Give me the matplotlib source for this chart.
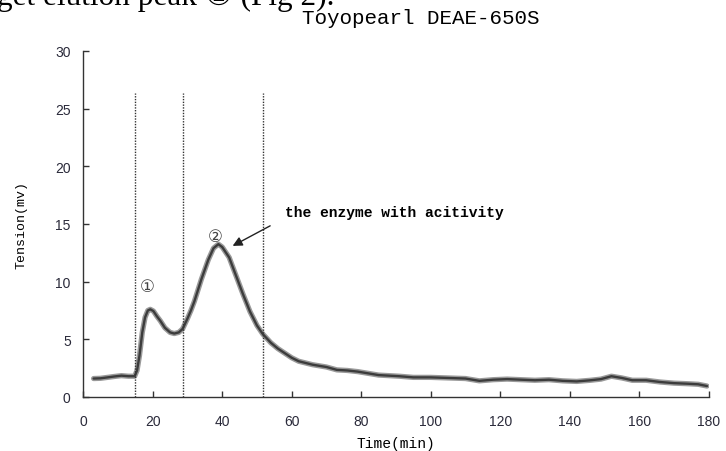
import matplotlib
matplotlib.use("Agg")
import matplotlib.pyplot as plt

# chromatogram
time_min = [3, 5, 7, 9, 11, 13, 14.8, 15.5, 16.2, 17.0, 17.8, 18.6, 19.3, 20.2, 21.2, 22.2,
            23.5, 25.0, 26.2, 27.5, 28.6, 30, 31, 32, 34, 36, 37.5, 38.9, 40, 42, 44, 46,
            48, 50, 51.7, 54, 56, 58, 60, 62, 64, 66, 68, 70, 73, 76, 79, 82, 85, 88, 91,
            95, 100, 105, 110, 114, 118, 122, 126, 130, 134, 138, 142, 146, 149, 152, 155,
            158, 162, 166, 170, 174, 177, 179.5]
tension_mv = [1.6, 1.62, 1.7, 1.78, 1.85, 1.8, 1.8, 2.3, 3.6, 5.6, 6.9, 7.5, 7.6, 7.45, 7.0, 6.6,
              6.0, 5.6, 5.5, 5.6, 5.9, 6.8, 7.5, 8.3, 10.2, 11.9, 12.9, 13.25, 13.0, 12.1, 10.5, 8.9,
              7.4, 6.2, 5.45, 4.7, 4.2, 3.8, 3.4, 3.1, 2.95, 2.8, 2.7, 2.6, 2.35, 2.3, 2.2, 2.05, 1.9, 1.85, 1.8,
              1.7, 1.7, 1.65, 1.6, 1.4, 1.5, 1.55, 1.5, 1.45, 1.5, 1.4, 1.35, 1.45, 1.55, 1.8, 1.65,
              1.45, 1.45, 1.3, 1.2, 1.15, 1.1, 0.95]
fraction_cuts = [14.8, 28.6, 51.7]
x_ticks = list(range(0, 181, 20))
y_ticks = list(range(0, 31, 5))

fig = plt.figure(figsize=(7.26, 4.52), dpi=100)
ax = fig.add_axes([0.1146, 0.1195, 0.8616, 0.7655])

# cropped caption line from the page above the figure (cut off in the source too)
fig.text(-0.004, 1 - 5 / 452, "get elution peak \u2461 (Fig 2).", fontsize=22.5,
         family=["Liberation Serif", "DejaVu Sans"], va="baseline", ha="left")

ax.plot(time_min, tension_mv, color="#9a9a9a", lw=3.8, solid_capstyle="round")
ax.plot(time_min, tension_mv, color="#3c3c3c", lw=1.7, solid_capstyle="round")

for xc in fraction_cuts:
    ax.plot([xc, xc], [0, 26.4], color="#333333", lw=1.0, linestyle=(0, (1, 1)))

ax.set_xlim(0, 180)
ax.set_ylim(0, 30)
ax.set_xticks(x_ticks)
ax.set_yticks(y_ticks)
ax.spines["top"].set_visible(False)
ax.spines["right"].set_visible(False)
for s in ("left", "bottom"):
    ax.spines[s].set_color("#333333")
    ax.spines[s].set_linewidth(1.0)
ax.tick_params(direction="in", length=4, width=1, color="#333333",
               labelcolor="#2a2a3a", labelsize=10)
ax.tick_params(axis="x", pad=12)
ax.tick_params(axis="y", pad=9)
for lab in ax.get_xticklabels() + ax.get_yticklabels():
    lab.set_family("Liberation Sans")

ax.set_xlabel("Time(min)", family="Liberation Mono", fontsize=10.5, labelpad=6)
ax.set_ylabel("Tension(mv)", family="Liberation Mono", fontsize=9.5, labelpad=20)

fig.text(0.58, 1 - 18 / 452, "Toyopearl DEAE-650S", family="Liberation Mono",
         fontsize=15, ha="center", va="center")

ax.text(18.3, 9.6, "\u2460", fontsize=12, ha="center", va="center", color="#444444")
ax.text(37.9, 14.0, "\u2461", fontsize=12, ha="center", va="center", color="#444444")

ax.annotate("", xy=(43.0, 13.1), xytext=(53.8, 14.84),
            arrowprops=dict(arrowstyle="-|>", color="#222222", lw=1.0,
                            mutation_scale=14, shrinkA=0, shrinkB=0))
ax.text(58.1, 16.0, "the enzyme with acitivity", family="Liberation Mono",
        fontweight="bold", fontsize=10.5, ha="left", va="center")

fig.savefig("out.png", dpi=100)
